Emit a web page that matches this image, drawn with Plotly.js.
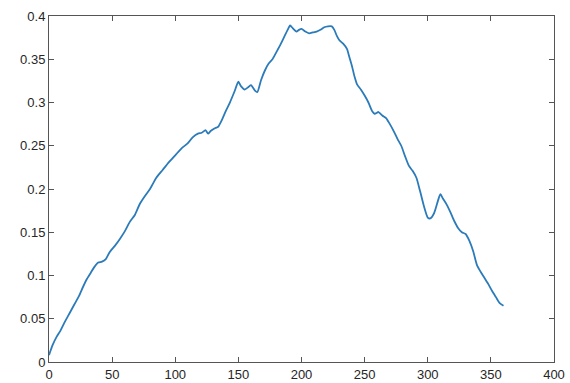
<!DOCTYPE html>
<html>
<head>
<meta charset="utf-8">
<script src="https://cdn.plot.ly/plotly-3.0.1.min.js"></script>
<style>html,body{margin:0;padding:0;background:#fff;}#chart{width:570px;height:383px;}</style>
</head>
<body>
<div id="chart"></div>
<script>
const xValues = [0,3,6,9,12,15,18,21,24,27,30,33,36,39,42,45,48,52,56,60,64,68,72,76,80,85,90,95,100,105,110,114,118,121,124,126,128,131,134,137,140,143,147,150,152,155,158,160,163,165,168,171,174,177,180,183,186,189,191,193,196,198,200,203,206,209,212,215,218,221,224,226,228,230,233,236,238,240,242,244,247,250,253,256,258,261,264,267,270,273,276,279,282,285,288,291,294,297,300,302,305,308,310,312,315,318,321,324,327,330,333,336,339,342,345,348,351,354,357,360];
const yValues = [0.008,0.02,0.029,0.036,0.045,0.053,0.061,0.069,0.077,0.087,0.096,0.103,0.110,0.115,0.116,0.119,0.127,0.134,0.142,0.151,0.162,0.170,0.183,0.192,0.200,0.213,0.222,0.231,0.239,0.247,0.253,0.260,0.264,0.265,0.268,0.264,0.267,0.270,0.272,0.280,0.290,0.299,0.313,0.324,0.319,0.315,0.318,0.320,0.314,0.312,0.326,0.337,0.345,0.350,0.358,0.366,0.375,0.384,0.389,0.386,0.382,0.384,0.385,0.382,0.380,0.381,0.382,0.384,0.387,0.388,0.388,0.384,0.377,0.372,0.368,0.362,0.352,0.342,0.330,0.321,0.315,0.308,0.300,0.290,0.287,0.289,0.285,0.282,0.275,0.267,0.258,0.250,0.238,0.227,0.221,0.213,0.197,0.180,0.167,0.166,0.172,0.186,0.194,0.189,0.182,0.173,0.163,0.155,0.150,0.148,0.140,0.128,0.112,0.104,0.097,0.090,0.082,0.075,0.068,0.065];
const xTicks = [0,50,100,150,200,250,300,350,400];
const yTicks = [0,0.05,0.1,0.15,0.2,0.25,0.3,0.35,0.4];

const axisCommon = {
  showgrid: false, zeroline: false, showline: true, mirror: 'ticks',
  linecolor: '#555', linewidth: 1, ticks: 'inside', ticklen: 5, tickcolor: '#555',
  tickfont: {family: 'Liberation Sans, Arial, sans-serif', size: 13, color: '#262626'}
};
Plotly.newPlot('chart', [{
  x: xValues, y: yValues, type: 'scatter', mode: 'lines',
  line: {color: '#2b7bba', width: 1.8, shape: 'spline', smoothing: 0.6}
}], {
  width: 570, height: 383,
  margin: {l: 49, r: 16, t: 16, b: 21},
  paper_bgcolor: '#fff', plot_bgcolor: '#fff',
  showlegend: false,
  xaxis: Object.assign({}, axisCommon, {range: [0, 400], tickvals: xTicks, ticktext: xTicks.map(String)}),
  yaxis: Object.assign({}, axisCommon, {range: [0, 0.4], tickvals: yTicks, ticktext: yTicks.map(String)})
}, {displayModeBar: false, staticPlot: true});
</script>
</body>
</html>
